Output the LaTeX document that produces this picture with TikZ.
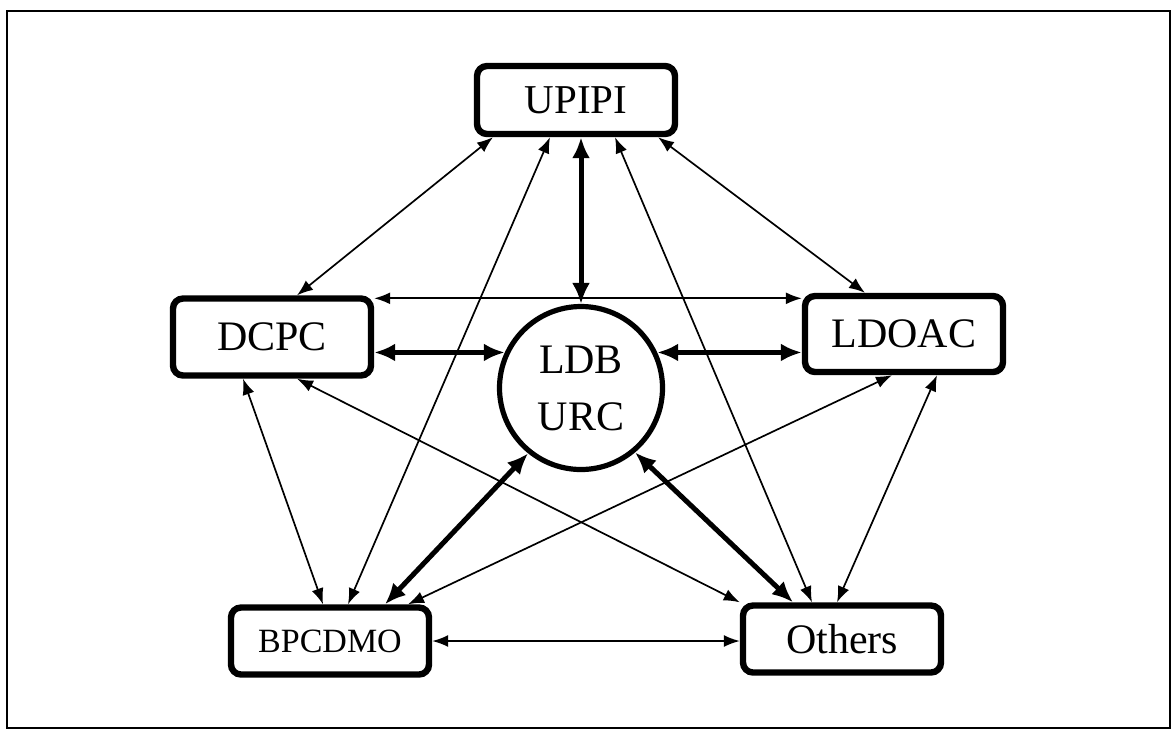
\documentclass[tikz,border=0pt]{standalone}
\usepackage{fontspec}
\setmainfont{Liberation Serif}
\usetikzlibrary{calc}
\usetikzlibrary{arrows.meta}
\tikzstyle{unit}=[%
  draw,
  line width=3.2pt,
  rounded corners=5pt,
  minimum width=99pt,
  minimum height=35pt,
  inner sep=2pt,
  font=\fontsize{21}{25}\selectfont
]
\tikzstyle{hub}=[%
  draw,
  circle,
  line width=2.6pt,
  minimum size=81.5pt,
  align=center,
  font=\fontsize{21}{28.5}\selectfont
]
\tikzstyle{link}=[line width=0.85pt, {Latex[length=8pt,width=6pt]}-{Latex[length=8pt,width=6pt]}]
\tikzstyle{mainlink}=[line width=2.5pt, {Latex[length=10.5pt,width=9pt]}-{Latex[length=10.5pt,width=9pt]}]

\begin{document}
\begin{tikzpicture}[x=0.5pt, y=-0.5pt]
    \useasboundingbox (0,0) rectangle (1176,730);
    \draw[line width=1.3pt] (7,11) rectangle (1170,728);

    \node[unit, minimum height=34pt, font=\fontsize{20.5}{24}\selectfont] (upipi) at (576,100) {\raisebox{-2pt}{UPIPI}};
    \node[unit, minimum height=38.5pt] (dcpc) at (272,337) {DCPC};
    \node[unit, minimum height=38pt] (ldoac) at (904,334) {LDOAC};
    \node[unit, minimum height=33.5pt, font=\fontsize{17}{20}\selectfont] (bpcdmo) at (330,641) {BPCDMO};
    \node[unit, minimum height=33.5pt] (others) at (842,639) {Others};
    \node[hub] (ldb) at (581,388) {LDB\\URC};

    \draw[link] ([shift={(-83,0)}]upipi.south) -- ([shift={(25,0)}]dcpc.north);
    \draw[link] ([shift={(-26,0)}]upipi.south) -- ([shift={(18,0)}]bpcdmo.north);
    \draw[link] ([shift={(39,0)}]upipi.south) -- ([shift={(-30,0)}]others.north);
    \draw[link] ([shift={(82,0)}]upipi.south) -- ([shift={(-39,0)}]ldoac.north);
    \draw[link] ([shift={(0,3)}]dcpc.north east) -- ([shift={(0,3)}]dcpc.north east -| ldoac.west);
    \draw[link] ([shift={(-29,0)}]dcpc.south) -- ([shift={(-7,0)}]bpcdmo.north);
    \draw[link] ([shift={(25,0)}]dcpc.south) -- (others.north west);
    \draw[link] ([shift={(-12,0)}]ldoac.south) -- ([shift={(78,0)}]bpcdmo.north);
    \draw[link] ([shift={(33,0)}]ldoac.south) -- ([shift={(-5,0)}]others.north);
    \draw[link] (bpcdmo.east) -- (bpcdmo.east -| others.west);

    \draw[mainlink] ([shift={(5,0)}]upipi.south) -- (ldb.north);
    \draw[mainlink] (dcpc.east |- ldb.155) -- (ldb.155);
    \draw[mainlink] (ldb.25) -- (ldoac.west |- ldb.25);
    \draw[mainlink] (ldb.231) -- ([shift={(55,0)}]bpcdmo.north);
    \draw[mainlink] (ldb.310) -- ([shift={(-49,0)}]others.north);
\end{tikzpicture}
\end{document}
